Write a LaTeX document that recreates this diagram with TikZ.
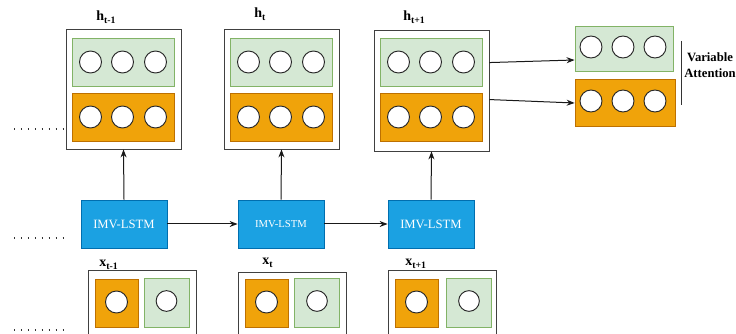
\documentclass[tikz,border=0pt]{standalone}
\usepackage{fontspec}
\setmainfont{Liberation Serif}
\usetikzlibrary{arrows.meta,calc}
\definecolor{gfill}{HTML}{D5E8D4}
\definecolor{gdraw}{HTML}{82B366}
\definecolor{ofill}{HTML}{F0A30A}
\definecolor{odraw}{HTML}{BD7000}
\definecolor{bfill}{HTML}{1BA1E2}
\definecolor{bdraw}{HTML}{006EAF}
\tikzset{
  outer/.style={draw=black!75, line width=0.65pt, fill=white, inner sep=0pt},
  gbox/.style={draw=gdraw, fill=gfill, line width=0.6pt, inner sep=0pt},
  obox/.style={draw=odraw, fill=ofill, line width=0.6pt, inner sep=0pt},
  unit/.style={circle, draw=black!85, fill=white, line width=0.7pt, inner sep=0pt, minimum size=16.5pt},
  lstm/.style={draw=bdraw, fill=bfill, line width=0.6pt, text=white, inner sep=0pt, minimum width=64.5pt, minimum height=36pt},
  lab/.style={font=\bfseries\fontsize{10.5}{12}\selectfont, inner sep=0pt},
  conn/.style={-{Stealth[length=6pt,width=4.5pt]}, line width=0.75pt, black!90},
  dotrow/.style={line width=1.1pt, dash pattern=on 0.9pt off 4.3pt, black!80}
}
\begin{document}
\begin{tikzpicture}[x=0.75pt,y=-0.75pt]
\useasboundingbox (0,0) rectangle (736,334);
\clip (0,0) rectangle (736,334);
% hidden-state boxes
\foreach \n/\cx/\cy/\hh in {hm/123.5/89/120, h0/281.5/89/120, hp/431.5/90.5/121}{
  \node[outer, minimum width=86.25pt, minimum height={\hh*0.75pt}] (\n) at (\cx,\cy) {};
  \node[gbox, minimum width=76.5pt, minimum height=36pt] (\n g) at (\cx,62) {};
  \node[obox, minimum width=76.5pt, minimum height=36pt] (\n o) at (\cx,117) {};
  \foreach \k/\dx in {1/-33,2/-1,3/32}{
    \node[unit] (\n g\k) at ($(\n g)+(\dx,0)$) {};
    \node[unit] (\n o\k) at ($(\n o)+(\dx,0)$) {};
  }
}
\node[lab, anchor=base west] (lhm) at (96,21) {h\textsubscript{t-1}};
\node[lab, anchor=base west] (lh0) at (254,18) {h\textsubscript{t}};
\node[lab, anchor=base west] (lhp) at (403,21) {h\textsubscript{t+1}};
% attention output
\node[gbox, minimum width=73.5pt, minimum height=33.75pt] (rg) at (624,48.5) {};
\node[obox, minimum width=75pt, minimum height=35.25pt] (ro) at (625,102.5) {};
\foreach \k/\x in {1/591,2/623,3/655}{
  \node[unit] (rg\k) at (\x,47) {};
  \node[unit] (ro\k) at (\x,101) {};
}
\coordinate (va1) at (681,41);
\coordinate (va2) at (681,105);
\draw[line width=0.7pt, black!80] (va1) -- (va2);
\node[font=\bfseries\fontsize{9.5}{12}\selectfont, align=center, inner sep=0pt] (vat) at (710,65) {Variable\\Attention};
\draw[conn] ($(hp.north east)+(0,33)$) -- ($(rg.west)+(0,11.5)$);
\draw[conn] ($(hp.north east)+(0,70)$) -- ($(ro.west)+(0,0.5)$);
% LSTM cells
\node[lstm, font=\fontsize{9.5}{11}\selectfont] (l1) at (124,224) {IMV-LSTM};
\node[lstm, font=\fontsize{8}{10}\selectfont] (l2) at (281,224) {IMV-LSTM};
\node[lstm, font=\fontsize{9.5}{11}\selectfont] (l3) at (431,224) {IMV-LSTM};
\draw[conn] (l1) -- (l2);
\draw[conn] (l2) -- (l3);
\draw[conn] (l1.north) -- (hm.south);
\draw[conn] (l2.north) -- (h0.south);
\draw[conn] (l3.north) -- (hp.south);
% input boxes
\foreach \n/\cx/\top/\ox/\gx in {x1/142/270/116.5/166.5, x2/292/272/266.5/317, x3/442.5/270/416.5/469}{
  \node[outer, minimum width=81pt, minimum height=60pt, anchor=north] (\n) at (\cx,\top) {};
  \node[obox, minimum width=32.25pt, minimum height=36pt, anchor=north] (\n o) at (\ox,279) {};
  \node[gbox, minimum width=33.75pt, minimum height=36.75pt, anchor=north] (\n g) at (\gx,278) {};
  \node[unit] (\n oc) at (\ox,302) {};
  \node[unit, minimum size=15.5pt] (\n gc) at (\gx,301) {};
}
\node[lab, anchor=base west] (lx1) at (99,267) {x\textsubscript{t-1}};
\node[lab, anchor=base west] (lx2) at (262,265) {x\textsubscript{t}};
\node[lab, anchor=base west] (lx3) at (405,266) {x\textsubscript{t+1}};
% continuation dots
\coordinate (d1a) at (14,129); \coordinate (d1b) at (66,129);
\coordinate (d2a) at (14,238); \coordinate (d2b) at (66,238);
\coordinate (d3a) at (14,330); \coordinate (d3b) at (66,330);
\draw[dotrow] (d1a) -- (d1b);
\draw[dotrow] (d2a) -- (d2b);
\draw[dotrow] (d3a) -- (d3b);
\end{tikzpicture}
\end{document}
